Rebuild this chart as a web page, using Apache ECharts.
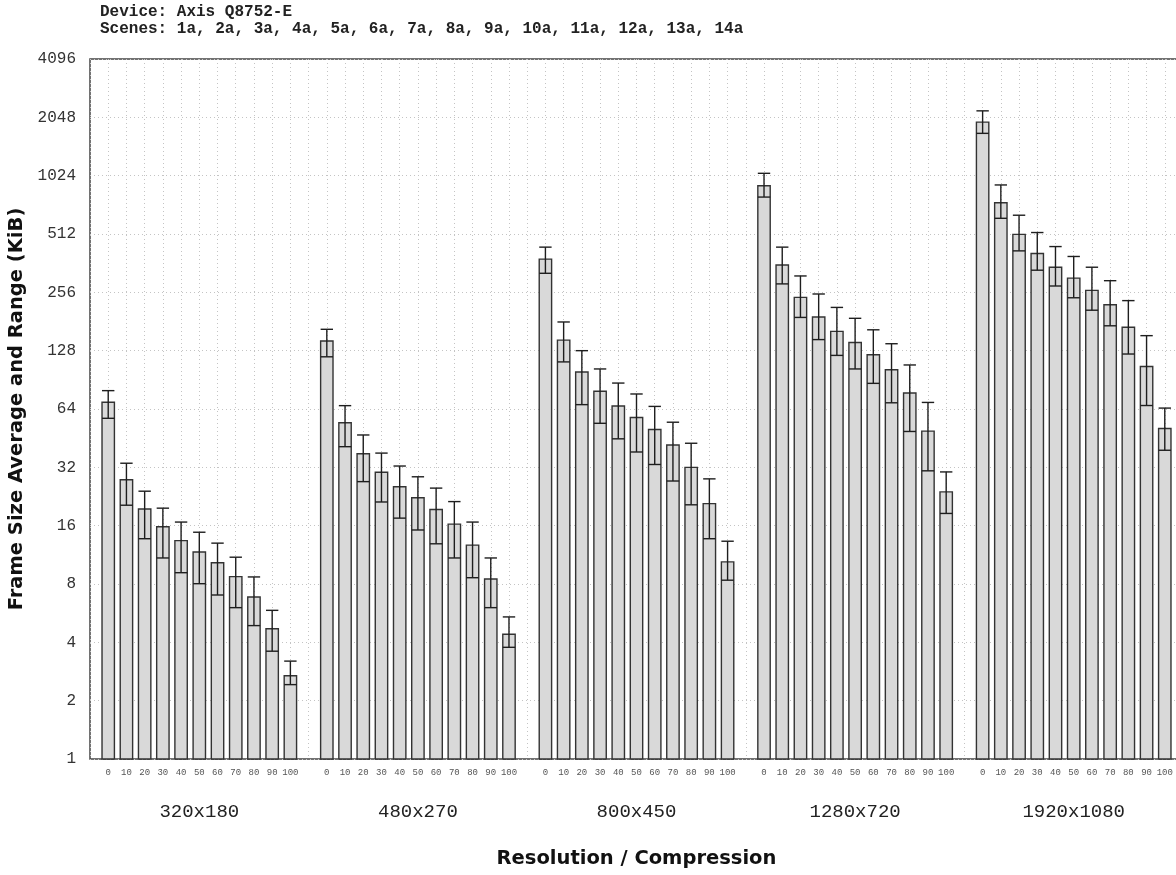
<!DOCTYPE html>
<html>
<head>
<meta charset="utf-8">
<script src="https://cdn.jsdelivr.net/npm/echarts@6/dist/echarts.min.js"></script>
<style>
  html, body { margin: 0; padding: 0; background: #ffffff; }
  #chart { width: 1176px; height: 875px; }
</style>
</head>
<body>
<div id="chart"></div>
<script>
// Frame size per resolution and compression level (KiB): average, minimum, maximum
const resolutions = ['320x180', '480x270', '800x450', '1280x720', '1920x1080'];
const compressions = [0, 10, 20, 30, 40, 50, 60, 70, 80, 90, 100];

const avg320 = [69.3, 27.6, 19.5, 15.8, 13.4, 11.7, 10.3, 8.73, 6.86, 4.70, 2.69];
const min320 = [57.3, 20.4, 13.7, 10.9, 9.15, 8.03, 7.02, 6.04, 4.88, 3.60, 2.42];
const max320 = [79.6, 33.6, 24.1, 19.7, 16.7, 14.8, 13.0, 11.0, 8.70, 5.85, 3.20];

const avg480 = [143.6, 54.4, 37.6, 30.2, 25.4, 22.3, 19.4, 16.3, 12.7, 8.49, 4.40];
const min480 = [119, 40.9, 27.0, 21.2, 17.5, 15.2, 12.9, 10.9, 8.62, 6.04, 3.77];
const max480 = [165, 66.6, 47.0, 37.9, 32.5, 28.6, 25.0, 21.3, 16.7, 10.9, 5.41];

const avg800 = [380, 145, 99.3, 79.0, 66.3, 57.9, 50.2, 41.7, 32.0, 20.8, 10.4];
const min800 = [321, 112, 67.4, 54.0, 44.9, 38.4, 33.1, 27.2, 20.5, 13.7, 8.37];
const max800 = [438, 180, 128, 103, 87.1, 76.5, 66.0, 54.7, 42.6, 27.9, 13.3];

const avg1280 = [908, 354, 241, 191, 161, 141, 122, 102, 77.4, 49.2, 23.9];
const min1280 = [794, 283, 190, 146, 121, 103, 86.8, 68.9, 49.0, 30.7, 18.5];
const max1280 = [1053, 438, 311, 251, 214, 188, 164, 139, 108, 69.2, 30.3];

const avg1920 = [1935, 742, 510, 406, 345, 303, 262, 221, 169, 106, 50.8];
const min1920 = [1693, 617, 419, 333, 276, 240, 207, 172, 123, 66.7, 39.2];
const max1920 = [2212, 917, 640, 521, 441, 392, 345, 294, 232, 153, 64.7];

const deviceLine = 'Device: Axis Q8752-E';
const scenesLine = 'Scenes: 1a, 2a, 3a, 4a, 5a, 6a, 7a, 8a, 9a, 10a, 11a, 12a, 13a, 14a';

const groups = [
  [avg320, min320, max320],
  [avg480, min480, max480],
  [avg800, min800, max800],
  [avg1280, min1280, max1280],
  [avg1920, min1920, max1920]
];

// One slot per compression level, with an empty slot between resolutions
const slots = [''];
const barData = [];
groups.forEach(function (g) {
  compressions.forEach(function (c, i) {
    barData.push([slots.length, g[0][i], g[1][i], g[2][i]]);
    slots.push(String(c));
  });
  slots.push('');
});

const MONO = '"Liberation Mono", "DejaVu Sans Mono", monospace';
const SANS = '"DejaVu Sans", "Noto Sans", sans-serif';

function renderBar(params, api) {
  const x = api.value(0);
  const top = api.coord([x, api.value(1)]);
  const base = api.coord([x, 1]);
  const lo = api.coord([x, api.value(2)]);
  const hi = api.coord([x, api.value(3)]);
  const step = api.coord([x + 1, 1])[0] - base[0];
  const w = step * 0.68;
  const h = w / 2;
  const cx = top[0];
  const errStyle = { stroke: '#1e1e1e', lineWidth: 1.4 };
  return {
    type: 'group',
    children: [
      {
        type: 'rect',
        shape: { x: cx - h, y: top[1], width: w, height: base[1] - top[1] },
        style: { fill: '#d9d9d9', stroke: '#333333', lineWidth: 1.4 }
      },
      { type: 'line', shape: { x1: cx, y1: lo[1], x2: cx, y2: hi[1] }, style: errStyle },
      { type: 'line', shape: { x1: cx - h, y1: hi[1], x2: cx + h, y2: hi[1] }, style: errStyle },
      { type: 'line', shape: { x1: cx - h, y1: lo[1], x2: cx + h, y2: lo[1] }, style: errStyle }
    ]
  };
}

const chart = echarts.init(document.getElementById('chart'), null, { renderer: 'canvas' });

chart.setOption({
  animation: false,
  backgroundColor: '#ffffff',
  grid: {
    left: 90, top: 59, width: 1093, height: 700,
    show: true, borderColor: '#444444', borderWidth: 1.5,
    containLabel: false,
    outerBoundsMode: 'none'
  },
  xAxis: [
    {
      type: 'category',
      data: slots,
      boundaryGap: false,
      axisLine: { show: false },
      axisTick: { show: false },
      axisLabel: {
        interval: 0, fontFamily: MONO, fontSize: 9, color: '#555555', margin: 9,
        hideOverlap: false
      },
      splitLine: { show: true, interval: 0, lineStyle: { type: [1, 3], color: '#c4c4c4', width: 1 } }
    },
    {
      type: 'category',
      data: resolutions,
      boundaryGap: true,
      position: 'bottom',
      axisLine: { show: false },
      axisTick: { show: false },
      splitLine: { show: false },
      axisLabel: { interval: 0, fontFamily: MONO, fontSize: 19, color: '#222222', margin: 43 },
      name: 'Resolution / Compression',
      nameLocation: 'middle',
      nameGap: 90,
      nameTextStyle: { fontFamily: SANS, fontWeight: 'bold', fontSize: 19.5, color: '#111111' }
    }
  ],
  yAxis: {
    type: 'log',
    logBase: 2,
    min: 1,
    max: 4096,
    interval: 1,
    splitNumber: 12,
    axisLine: { show: false },
    axisTick: { show: false },
    axisLabel: {
      fontFamily: MONO, fontSize: 16, color: '#333333', margin: 14,
      formatter: function (v) { return String(Math.round(v)); }
    },
    splitLine: { show: true, lineStyle: { type: [1, 3], color: '#c4c4c4', width: 1 } },
    name: 'Frame Size Average and Range (KiB)',
    nameLocation: 'middle',
    nameGap: 56,
    nameTextStyle: { fontFamily: SANS, fontWeight: 'bold', fontSize: 19.5, color: '#111111' }
  },
  graphic: [
    {
      type: 'text', left: 100, top: 4,
      style: { text: deviceLine, font: 'bold 16px ' + MONO, fill: '#222222' }
    },
    {
      type: 'text', left: 100, top: 21,
      style: { text: scenesLine, font: 'bold 16px ' + MONO, fill: '#222222' }
    }
  ],
  series: [
    {
      type: 'custom',
      xAxisIndex: 0,
      yAxisIndex: 0,
      renderItem: renderBar,
      encode: { x: 0, y: [1, 2, 3] },
      data: barData,
      clip: false,
      z: 3
    }
  ]
});
</script>
</body>
</html>
